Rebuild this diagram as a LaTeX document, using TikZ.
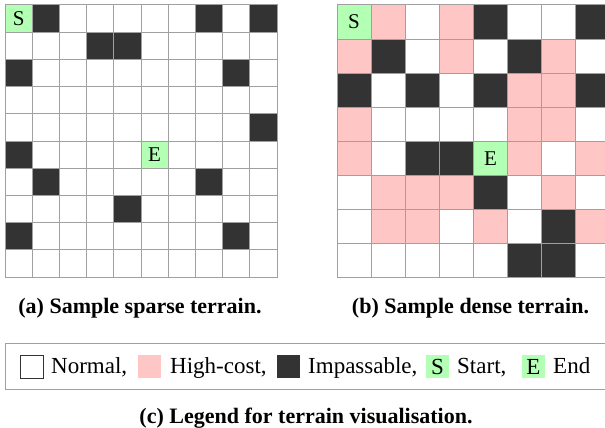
\documentclass[tikz,border=0pt]{standalone}
\usepackage{fontspec}
\setmainfont{Liberation Serif}
\definecolor{terrW}{HTML}{FFFFFF}
\definecolor{terrP}{HTML}{FFC6C6}
\definecolor{terrD}{HTML}{333333}
\definecolor{terrG}{HTML}{B3FFB3}
\definecolor{gridline}{HTML}{A0A0A0}
\begin{document}
\begin{tikzpicture}[x=1pt, y=-1pt,
    cell/.style={draw=gridline, line width=1pt},
    goal/.style={draw=gridline, line width=1pt, fill=terrG, inner sep=0pt, font=\fontsize{21}{21}\selectfont},
    key/.style={minimum size=23pt, inner sep=0pt, font=\fontsize{23}{23}\selectfont},
    keytext/.style={anchor=base west, inner sep=0pt, font=\fontsize{23}{23}\selectfont},
    caption/.style={anchor=base, inner sep=0pt, font=\fontsize{22}{22}\selectfont\bfseries}]
    \useasboundingbox (0,0) rectangle (605,428);
    % sparse terrain
    \foreach \x in {0,...,9}
        \foreach \y in {0,...,9}
            \draw[cell, fill=terrW] (5+\x*27.2, 5+\y*27.2) rectangle ++(27.2,27.2);
    \foreach \x/\y in {1/0,7/0,9/0,3/1,4/1,0/2,8/2,9/4,0/5,1/6,7/6,4/7,0/8,8/8}
        \draw[cell, fill=terrD] (5+\x*27.2, 5+\y*27.2) rectangle ++(27.2,27.2);
    \node[goal, minimum size=27.2pt] (sparseS) at (18.6, 18.6) {S};
    \node[goal, minimum size=27.2pt] (sparseE) at (5+5.5*27.2, 5+5.5*27.2) {E};
    % dense terrain
    \foreach \row [count=\y from 0] in {{G,P,W,P,D,W,W,D},{P,D,W,P,W,D,P,W},{D,W,D,W,D,P,P,D},{P,W,W,W,W,P,P,W},
                                        {P,W,D,D,G,P,W,P},{W,P,P,P,D,W,P,W},{W,P,P,W,P,W,D,P},{W,W,W,W,W,D,D,W}}
        \foreach \c [count=\x from 0] in \row
            \draw[cell, fill=terr\c] (337+\x*34.1, 5+\y*34.1) rectangle ++(34.1,34.1);
    \node[goal, minimum size=34.1pt] (denseS) at (337+0.5*34.1, 5+0.5*34.1) {S};
    \node[goal, minimum size=34.1pt] (denseE) at (337+4.5*34.1, 5+4.5*34.1) {E};
    \node[caption] (capsparse) at (140, 313) {(a) Sample sparse terrain.};
    \node[caption] (capdense) at (470.5, 313) {(b) Sample dense terrain.};
    % legend
    \draw[gridline, line width=1pt] (5, 343) rectangle (610, 389);
    \node[key, draw=terrD, line width=0.8pt, fill=white] (keynormal) at (31.5, 366.5) {};
    \node[keytext] (keynormaltxt) at (51, 373) {Normal,};
    \node[key, fill=terrP] (keycost) at (149.5, 366.5) {};
    \node[keytext] (keycosttxt) at (170, 373) {High-cost,};
    \node[key, fill=terrD] (keywall) at (288.5, 366.5) {};
    \node[keytext] (keywalltxt) at (308, 373) {Impassable,};
    \node[key, fill=terrG] (keystart) at (437.5, 366.5) {S};
    \node[keytext] (keystarttxt) at (457, 373) {Start,};
    \node[key, fill=terrG] (keyend) at (533.5, 366.5) {E};
    \node[keytext] (keyendtxt) at (553, 373) {End};
    \node[caption] (caplegend) at (306, 423) {(c) Legend for terrain visualisation.};
\end{tikzpicture}
\end{document}
